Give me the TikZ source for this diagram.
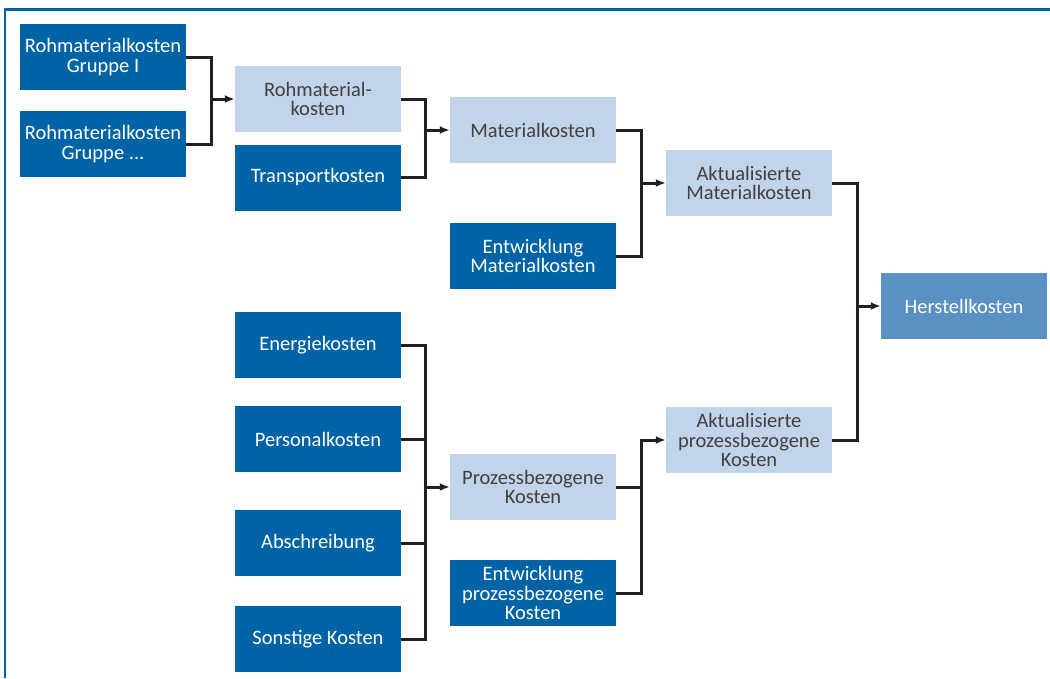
\documentclass[tikz,border=0pt]{standalone}
\usepackage{fontspec}
\setmainfont{Carlito}
\usepackage{xcolor}
\usetikzlibrary{positioning,arrows.meta,calc}
\definecolor{dunkelblau}{HTML}{0063A5}
\definecolor{hellblau}{HTML}{C2D4EA}
\definecolor{mittelblau}{HTML}{5B90C4}
\definecolor{linie}{HTML}{231F20}
\definecolor{textgrau}{HTML}{404040}

\begin{document}
\begin{tikzpicture}[x=1pt,y=-1pt,font=\fontsize{20.5}{19.5}\selectfont,
        box/.style={minimum width=166pt,minimum height=66pt,inner sep=0pt,align=center,anchor=center},
        dunkel/.style={box,fill=dunkelblau,text=white},
        hell/.style={box,fill=hellblau,text=textgrau},
        ziel/.style={box,fill=mittelblau,text=white},
        verb/.style={draw=linie,line width=3pt},
        pfeil/.style={verb,-{Latex[length=10pt,width=8pt]}}]
        \useasboundingbox (0,0) rectangle (1050,678);
        \draw[dunkelblau,line width=2.5pt] (5,678) -- (5,9.5) -- (1050,9.5);
        % Materialkosten
        \node[dunkel] (rmEins) at (103,57) {Rohmaterialkosten\\Gruppe I};
        \node[dunkel] (rmWeitere) at (103,144) {Rohmaterialkosten\\Gruppe ...};
        \node[hell] (rohmat) at (318,99) {Rohmaterial-\\kosten};
        \node[dunkel] (transport) at (318,177.5) {Transportkosten};
        \node[hell] (material) at (533,130) {Materialkosten};
        \node[dunkel] (entwMat) at (533,256) {Entwicklung\\Materialkosten};
        \node[hell] (aktMat) at (749,183) {Aktualisierte\\Materialkosten};
        \node[ziel] (herstell) at (964,306) {Herstellkosten};
        % Prozesskosten
        \node[dunkel] (energie) at (318,345) {Energiekosten};
        \node[dunkel] (personal) at (318,439) {Personalkosten};
        \node[dunkel] (abschreib) at (318,543) {Abschreibung};
        \node[dunkel] (sonstige) at (318,639) {Sonstige Kosten};
        \node[hell] (prozess) at (533,487) {Prozessbezogene\\Kosten};
        \node[dunkel] (entwProz) at (533,593) {Entwicklung\\prozessbezogene\\Kosten};
        \node[hell] (aktProz) at (749,440) {Aktualisierte\\prozessbezogene\\Kosten};

        \coordinate (jRoh) at ($(rmEins.east)+(25,0)$);
        \draw[verb] (rmEins.east) -- (jRoh) |- (rmWeitere.east);
        \draw[pfeil] (jRoh |- rohmat.west) -- (rohmat.west);

        \coordinate (jMat) at ($(rohmat.east)+(24,0)$);
        \draw[verb] (rohmat.east) -- (jMat) |- (transport.east);
        \draw[pfeil] (jMat |- material.west) -- (material.west);

        \coordinate (jAkt) at ($(material.east)+(25,0)$);
        \draw[verb] (material.east) -- (jAkt) |- (entwMat.east);
        \draw[pfeil] (jAkt |- aktMat.west) -- (aktMat.west);

        \coordinate (jHer) at ($(aktMat.east)+(25,0)$);
        \draw[verb] (aktMat.east) -- (jHer) |- (aktProz.east);
        \draw[pfeil] (jHer |- herstell.west) -- (herstell.west);

        \coordinate (jProz) at ($(energie.east)+(24,0)$);
        \draw[verb] (energie.east) -- (jProz) |- (sonstige.east);
        \draw[verb] (personal.east) -- (jProz |- personal.east);
        \draw[verb] (abschreib.east) -- (jProz |- abschreib.east);
        \draw[pfeil] (jProz |- prozess.west) -- (prozess.west);

        \coordinate (jAktP) at ($(entwProz.east)+(25,0)$);
        \draw[verb] (prozess.east) -- (jAktP |- prozess.east);
        \draw[pfeil] (entwProz.east) -- (jAktP) |- (aktProz.west);
\end{tikzpicture}
\end{document}
